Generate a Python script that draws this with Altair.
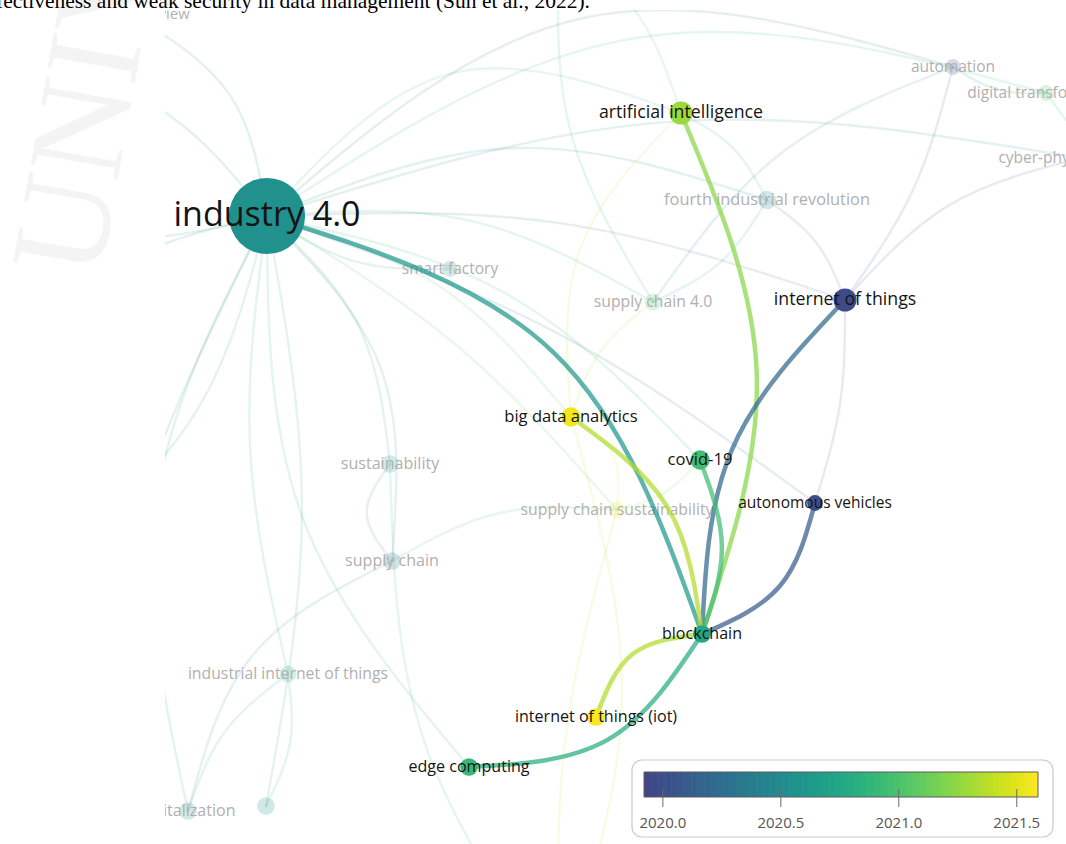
import altair as alt
import pandas as pd

# ---------------- data ----------------
doc_text = "cost-effectiveness and weak security in data management (Sun et al., 2022)."
watermark_text = "UNIV"

# network items (VOSviewer layout coordinates, average publication year, occurrences)
node_label = [
    "industry 4.0", "artificial intelligence", "internet of things", "big data analytics",
    "covid-19", "autonomous vehicles", "blockchain", "internet of things (iot)", "edge computing",
    "fourth industrial revolution", "smart factory", "supply chain 4.0", "sustainability",
    "supply chain", "supply chain sustainability", "industrial internet of things", "automation",
    "digital transformation", "cyber-physical systems", "digitalization", "literature review",
    "~u1", "~l1", "~l2", "~l3", "~l4", "~l5", "~r1", "~b1", "~t1",
]
node_x = [267, 681, 845, 571, 700, 815, 702, 596, 469,
          767, 450, 653, 390, 392, 617, 288, 953, 1046, 1081, 188, 133,
          266, 40, -30, 10, 60, 90, 1150, 560, 560]
node_y = [216, 113, 300, 417, 460, 503, 634, 717, 767,
          200, 269, 302, 464, 561, 510, 674, 67, 93, 158, 811, 15,
          806, 60, 200, 360, 560, 980, 560, 980, -60]
node_year = [2020.55, 2021.28, 2019.96, 2021.55, 2020.95, 2019.98, 2020.75, 2021.58, 2020.9,
             2020.45, 2020.55, 2021.0, 2020.6, 2020.25, 2021.5, 2020.8, 2019.97, 2021.0, 2020.3,
             2020.55, 2020.5,
             2020.55, 2020.5, 2020.4, 2020.6, 2020.7, 2020.5, 2020.3, 2021.2, 2020.6]
node_weight = [185, 17, 17, 12, 12, 8, 10, 10, 10,
               11, 8, 9, 10, 10, 9, 9, 8, 8, 8, 10, 6,
               10, 8, 8, 8, 8, 8, 8, 8, 8]
# items linked to the selected item "blockchain" are highlighted
node_focus = [True] * 9 + [False] * 21

# links of the selected item
focus_source = ["industry 4.0", "artificial intelligence", "internet of things", "big data analytics",
                "covid-19", "autonomous vehicles", "blockchain", "blockchain"]
focus_target = ["blockchain", "blockchain", "blockchain", "blockchain",
                "blockchain", "blockchain", "internet of things (iot)", "edge computing"]
focus_year = [2020.62, 2021.22, 2020.2, 2021.35, 2020.95, 2020.1, 2021.35, 2020.8]

# other (faded) links
faded_source = [
    "industry 4.0", "industry 4.0", "industry 4.0", "industry 4.0", "industry 4.0", "industry 4.0",
    "industry 4.0", "industry 4.0", "industry 4.0", "industry 4.0", "industry 4.0", "industry 4.0",
    "industry 4.0", "industry 4.0", "industry 4.0", "industry 4.0", "industry 4.0", "industry 4.0",
    "industry 4.0", "industry 4.0", "industry 4.0", "industry 4.0", "industry 4.0", "industry 4.0",
    "internet of things", "internet of things", "internet of things", "internet of things",
    "automation", "automation", "fourth industrial revolution", "fourth industrial revolution",
    "sustainability", "supply chain", "supply chain 4.0", "artificial intelligence",
    "supply chain sustainability", "big data analytics", "digitalization", "~u1", "digitalization",
    "cyber-physical systems", "digital transformation", "supply chain sustainability",
    "big data analytics", "~t1", "~t1", "sustainability",
]
faded_target = [
    "fourth industrial revolution", "automation", "digital transformation", "cyber-physical systems",
    "internet of things", "smart factory", "supply chain 4.0", "artificial intelligence",
    "big data analytics", "sustainability", "supply chain", "supply chain sustainability",
    "industrial internet of things", "digitalization", "~u1", "covid-19", "edge computing",
    "autonomous vehicles", "literature review", "~l1", "~l2", "~l3", "~l4", "~l5",
    "automation", "cyber-physical systems", "fourth industrial revolution", "autonomous vehicles",
    "digital transformation", "supply chain 4.0", "artificial intelligence", "supply chain 4.0",
    "supply chain", "supply chain sustainability", "big data analytics", "big data analytics",
    "covid-19", "supply chain sustainability", "industrial internet of things",
    "industrial internet of things", "supply chain",
    "~r1", "~r1", "~b1", "~b1", "supply chain 4.0", "artificial intelligence", "~b1",
]
faded_year = [
    2020.5, 2020.3, 2020.8, 2020.4, 2020.3, 2020.55, 2020.8, 2020.9, 2021.0, 2020.6, 2020.4, 2021.0,
    2020.7, 2020.55, 2020.55, 2020.8, 2020.7, 2020.2, 2020.5, 2020.5, 2020.5, 2020.5, 2020.6, 2020.5,
    2020.0, 2020.1, 2020.2, 2019.95, 2020.5, 2020.4, 2020.8, 2020.7, 2020.4, 2020.9, 2021.3, 2021.4,
    2021.2, 2021.5, 2020.7, 2020.7, 2020.4, 2020.3, 2020.8, 2021.4, 2021.4, 2020.8, 2021.0, 2020.8,
]

# colour legend
legend_ticks = [2020.0, 2020.5, 2021.0, 2021.5]
year_domain = [2019.92, 2021.59]

# ---------------- style ----------------
focus_bend = [-0.166, -0.125, 0.124, -0.142, -0.12, -0.16, 0.2, -0.168]
faded_bend = [
    -0.12, -0.18, -0.15, -0.08, -0.06, 0.1, -0.1, -0.22, -0.1, -0.12, -0.15, -0.05,
    0.06, 0.12, -0.06, -0.1, 0.12, -0.05, 0.15, 0.1, -0.1, 0.1, -0.1, 0.08,
    0.06, -0.1, 0.1, -0.05, 0.1, 0.1, 0.1, -0.1, 0.25, -0.1, 0.1, 0.15,
    0.1, -0.2, -0.1, 0.1, -0.15, -0.2, -0.15, 0.05, -0.1, 0.1, -0.1, 0.1,
]
FONT = "Open Sans"
LEFT, TOP = 165, 10            # origin of the network panel in the page
BOX = (632, 760, 1053, 837)    # legend frame in the page
BAR_X0, BAR_X1 = 644, 1038     # colour bar in the page
BAR_Y0, BAR_Y1 = 772, 797

# ---------------- tables ----------------
nodes = pd.DataFrame({
    "label": node_label, "x": node_x, "y": node_y, "year": node_year,
    "weight": node_weight, "focus": node_focus,
})
nodes["text"] = [("" if l.startswith("~") else l) for l in node_label]


def edge_table(src, tgt, yr, bend, offset):
    rows = []
    for i, (s, t, y, b) in enumerate(zip(src, tgt, yr, bend)):
        for k in (0, 1, 2):
            rows.append({"eid": offset + i, "source": s, "target": t, "year": y, "bend": b, "k": k})
    return pd.DataFrame(rows)


focus_edges = edge_table(focus_source, focus_target, focus_year, focus_bend, 0)
faded_edges = edge_table(faded_source, faded_target, faded_year, faded_bend, 100)
ticks = pd.DataFrame({"tick": legend_ticks})
bar_ends = pd.DataFrame({"a": [year_domain[0]], "b": [year_domain[1]]})

xscale = alt.Scale(domain=[LEFT, 1066], nice=False, zero=False)
yscale = alt.Scale(domain=[844, TOP], nice=False, zero=False)
cscale = alt.Scale(scheme=alt.SchemeParams(name="viridis", extent=[0.2, 1.0]),
                   domain=year_domain, nice=False, zero=False)
bar_scale = alt.Scale(domain=year_domain, range=[BAR_X0 - LEFT, BAR_X1 - LEFT], nice=False, zero=False)
area_scale = alt.Scale(domain=[0, 185], range=[0, 5800], zero=True)
font_scale = alt.Scale(type="pow", exponent=0.5, domain=[8, 185], range=[15.5, 34], zero=False)


def edge_layer(df, width, opacity):
    return alt.Chart(df).transform_lookup(
        lookup="source", from_=alt.LookupData(data=nodes, key="label", fields=["x", "y"]),
        as_=["sx", "sy"],
    ).transform_lookup(
        lookup="target", from_=alt.LookupData(data=nodes, key="label", fields=["x", "y"]),
        as_=["tx", "ty"],
    ).transform_calculate(
        px="datum.k == 0 ? datum.sx : (datum.k == 2 ? datum.tx : (datum.sx + datum.tx) / 2 - datum.bend * (datum.ty - datum.sy))",
        py="datum.k == 0 ? datum.sy : (datum.k == 2 ? datum.ty : (datum.sy + datum.ty) / 2 + datum.bend * (datum.tx - datum.sx))",
    ).mark_line(
        interpolate="natural", strokeWidth=width, opacity=opacity, strokeCap="round", clip=True,
    ).encode(
        x=alt.X("px:Q", scale=xscale, axis=None),
        y=alt.Y("py:Q", scale=yscale, axis=None),
        color=alt.Color("year:Q", scale=cscale, legend=None),
        detail="eid:N",
        order=alt.Order("k:Q"),
    )


faded_edge_layer = edge_layer(faded_edges, 2.4, 0.12)
focus_edge_layer = edge_layer(focus_edges, 4.5, 0.72)

faded_nodes = alt.Chart(nodes).transform_filter("!datum.focus").mark_circle(
    opacity=0.2, clip=True
).encode(
    x=alt.X("x:Q", scale=xscale, axis=None),
    y=alt.Y("y:Q", scale=yscale, axis=None),
    color=alt.Color("year:Q", scale=cscale, legend=None),
    size=alt.Size("weight:Q", scale=area_scale, legend=None),
)

faded_labels = alt.Chart(nodes).transform_filter("!datum.focus && datum.text != ''").mark_text(
    font=FONT, align="center", baseline="middle", color="#b0b0b0", clip=True
).encode(
    x=alt.X("x:Q", scale=xscale, axis=None),
    y=alt.Y("y:Q", scale=yscale, axis=None),
    text="text:N",
    size=alt.Size("weight:Q", scale=font_scale, legend=None),
)

focus_nodes = alt.Chart(nodes).transform_filter("datum.focus").mark_circle(
    opacity=1, clip=True
).encode(
    x=alt.X("x:Q", scale=xscale, axis=None),
    y=alt.Y("y:Q", scale=yscale, axis=None),
    color=alt.Color("year:Q", scale=cscale, legend=None),
    size=alt.Size("weight:Q", scale=area_scale, legend=None),
)

focus_labels = alt.Chart(nodes).transform_filter("datum.focus").mark_text(
    font=FONT, align="center", baseline="middle", color="#141414", clip=True
).encode(
    x=alt.X("x:Q", scale=xscale, axis=None),
    y=alt.Y("y:Q", scale=yscale, axis=None),
    text="text:N",
    size=alt.Size("weight:Q", scale=font_scale, legend=None),
)

# ---- colour legend (frame, bar sampled from the colour scale, ticks, labels) ----
legend_frame = alt.Chart(pd.DataFrame({"f": [0]})).mark_rect(
    fill="white", stroke="#c9c9c9", strokeWidth=1.2, cornerRadius=10
).encode(
    x=alt.value(BOX[0] - LEFT), x2=alt.value(BOX[2] - LEFT),
    y=alt.value(BOX[1] - TOP), y2=alt.value(BOX[3] - TOP),
)

legend_bar = alt.Chart(
    alt.sequence(year_domain[0], year_domain[1], 0.005, as_="year")
).transform_calculate(
    year2=f"min(datum.year + 0.008, {year_domain[1]})"
).mark_rect().encode(
    x=alt.X("year:Q", scale=bar_scale, axis=None), x2="year2:Q",
    y=alt.value(BAR_Y0 - TOP), y2=alt.value(BAR_Y1 - TOP),
    color=alt.Color("year:Q", scale=cscale, legend=None),
)

legend_outline = alt.Chart(bar_ends).mark_rect(
    fillOpacity=0, stroke="#5a5a5a", strokeWidth=1
).encode(
    x=alt.X("a:Q", scale=bar_scale, axis=None), x2="b:Q",
    y=alt.value(BAR_Y0 - TOP), y2=alt.value(BAR_Y1 - TOP),
)

legend_tick_marks = alt.Chart(ticks).mark_rule(color="#6b6b6b", strokeWidth=1).encode(
    x=alt.X("tick:Q", scale=bar_scale, axis=None),
    y=alt.value(789 - TOP), y2=alt.value(807 - TOP),
)

legend_labels = alt.Chart(ticks).mark_text(
    font=FONT, fontSize=15, color="#555555", align="center", baseline="middle"
).encode(
    x=alt.X("tick:Q", scale=bar_scale, axis=None),
    y=alt.value(823 - TOP),
    text=alt.Text("tick:Q", format=".1f"),
)

watermark = alt.Chart(pd.DataFrame({"t": [watermark_text]})).mark_text(
    font="Liberation Serif", fontSize=135, color="#f4f4f4", angle=280,
    align="left", baseline="alphabetic",
).encode(text="t:N", x=alt.value(100 - LEFT), y=alt.value(280 - TOP))

doc_line = alt.Chart(pd.DataFrame({"t": [doc_text]})).mark_text(
    font="Liberation Serif", fontSize=21.5, color="#000000",
    align="right", baseline="alphabetic",
).encode(text="t:N", x=alt.value(590 - LEFT), y=alt.value(8 - TOP))

chart = alt.layer(
    watermark, doc_line,
    faded_edge_layer, faded_nodes, faded_labels,
    focus_edge_layer, focus_nodes, focus_labels,
    legend_frame, legend_bar, legend_outline, legend_tick_marks, legend_labels,
).resolve_scale(size="independent", x="independent").properties(
    width=1066 - LEFT, height=844 - TOP,
    padding={"left": LEFT, "top": TOP, "right": 0, "bottom": 0},
    autosize=alt.AutoSizeParams(type="none"),
    background="white",
).configure_view(strokeWidth=0)

chart.save("out.html", embed_options={"renderer": "svg", "actions": False})
